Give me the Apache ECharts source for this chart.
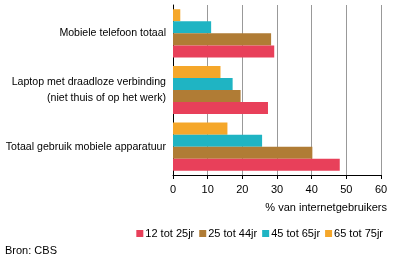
<!DOCTYPE html>
<html><head><meta charset="utf-8">
<script src="https://cdn.jsdelivr.net/npm/echarts@6/dist/echarts.min.js"></script>
<style>html,body{margin:0;padding:0;background:#fff}#c{width:396px;height:266px}</style>
</head><body><div id="c"></div>
<script>
const categories = ['Totaal gebruik mobiele apparatuur', 'Laptop met draadloze verbinding\n(niet thuis of op het werk)', 'Mobiele telefoon totaal'];
const seriesNames = ['12 tot 25jr', '25 tot 44jr', '45 tot 65jr', '65 tot 75jr'];
const v12_25 = [48.1, 27.4, 29.2];
const v25_44 = [40.2, 19.5, 28.3];
const v45_65 = [25.7, 17.2, 11];
const v65_75 = [15.7, 13.7, 2.1];
const xTicks = [0, 10, 20, 30, 40, 50, 60];
const axisName = '% van internetgebruikers';
const colors = ['#e8405a', '#b07c35', '#1fb4c3', '#f5a72a'];
const values = [v12_25, v25_44, v45_65, v65_75];
const font = 'Liberation Sans, Arial, sans-serif';
const order = [3, 2, 1, 0];
const chart = echarts.init(document.getElementById('c'));
chart.setOption({
  animation: false,
  textStyle: { fontFamily: font },
  grid: { left: 173, right: 15, top: 5, bottom: 91, containLabel: false },
  xAxis: {
    type: 'value', min: xTicks[0], max: xTicks[xTicks.length - 1], interval: 10,
    axisLine: { show: true, lineStyle: { color: '#000', width: 1 } },
    axisTick: { show: true, length: 4, lineStyle: { color: '#000' } },
    axisLabel: { color: '#000', fontSize: 11, margin: 9 },
    splitLine: { show: true, lineStyle: { color: '#999', width: 1 } }
  },
  yAxis: {
    type: 'category', data: categories,
    axisLine: { show: true, lineStyle: { color: '#000', width: 1 } },
    axisTick: { show: false },
    axisLabel: { color: '#000', fontSize: 10.6, margin: 7, lineHeight: 16, align: 'right' }
  },
  legend: {
    right: 8, top: 223, itemWidth: 7, itemHeight: 7, itemGap: 5,
    icon: 'rect', textStyle: { color: '#000', fontSize: 11, padding: [0, 0, 0, -3] },
    data: seriesNames
  },
  graphic: [
    { type: 'text', right: 9, top: 202, style: { text: axisName, font: '11px ' + font, fill: '#000' } },
    { type: 'text', left: 5, top: 245, style: { text: 'Bron: CBS', font: '11px ' + font, fill: '#000' } }
  ],
  series: order.map(i => ({
    name: seriesNames[i], type: 'bar', data: values[i], barGap: '0%', barCategoryGap: '15%',
    itemStyle: { color: colors[i] }
  }))
});
</script></body></html>
